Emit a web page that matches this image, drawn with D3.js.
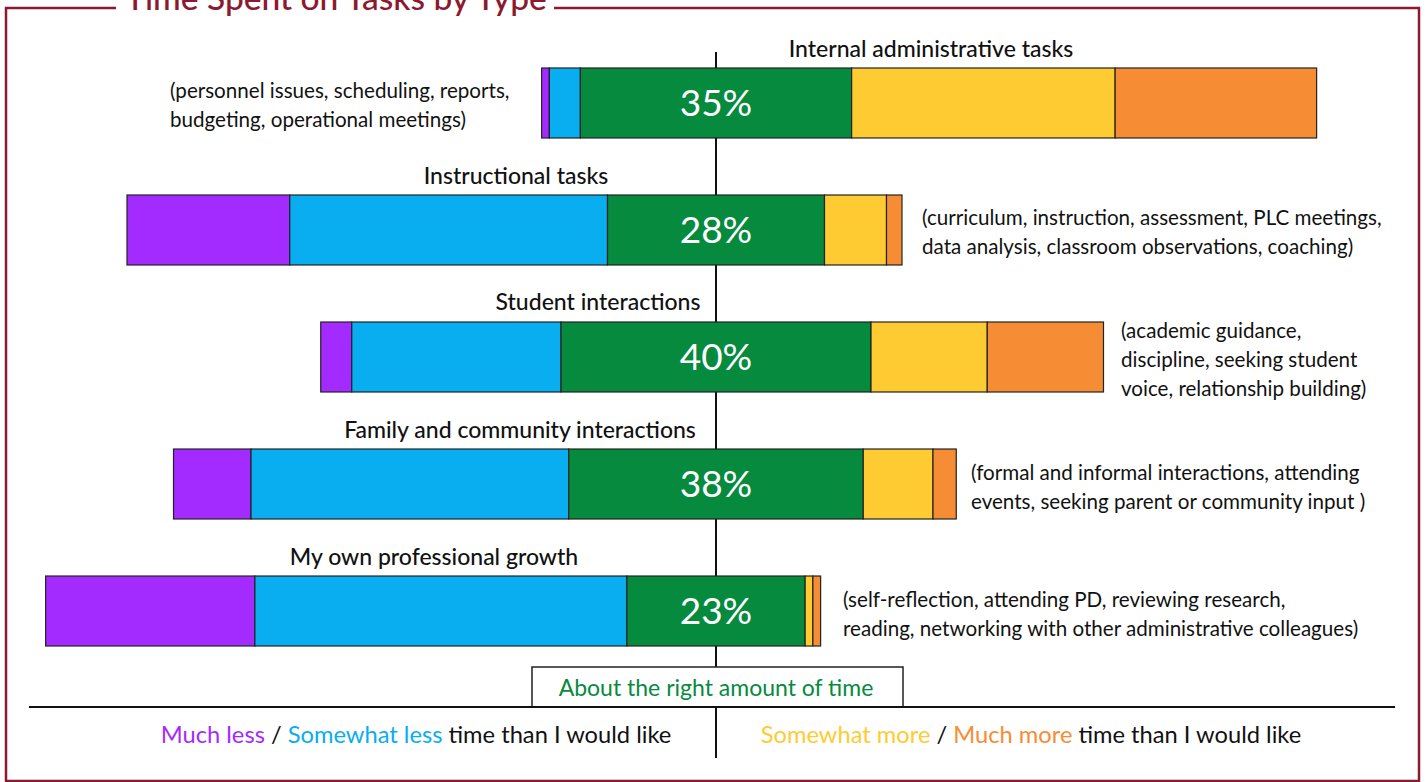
<!DOCTYPE html>
<html>
<head>
<meta charset="utf-8">
<style>
  body { margin: 0; background: #fff; }
  svg { display: block; font-family: Lato, "Open Sans", sans-serif; }
</style>
</head>
<body>
<div id="chart"></div>
<script src="https://cdnjs.cloudflare.com/ajax/libs/d3/7.8.5/d3.min.js"></script>
<script>
  // Data (percent of respondents)
  const categories = [
    "Internal administrative tasks",
    "Instructional tasks",
    "Student interactions",
    "Family and community interactions",
    "My own professional growth"
  ];
  const muchLess = [1, 21, 4, 10, 27];
  const somewhatLess = [4, 41, 27, 41, 48];
  const aboutRight = [35, 28, 40, 38, 23];
  const somewhatMore = [34, 8, 15, 9, 1];
  const muchMore = [26, 2, 15, 3, 1];
  const descriptions = [
    ["(personnel issues, scheduling, reports,", "budgeting, operational meetings)"],
    ["(curriculum, instruction, assessment, PLC meetings,", "data analysis, classroom observations, coaching)"],
    ["(academic guidance,", "discipline, seeking student", "voice, relationship building)"],
    ["(formal and informal interactions, attending", "events, seeking parent or community input )"],
    ["(self-reflection, attending PD, reviewing research,", "reading, networking with other administrative colleagues)"]
  ];
  const seriesNames = ["Much less", "Somewhat less", "About the right amount of time", "Somewhat more", "Much more"];

  // layout
  const width = 1426, height = 782;
  const cx = 716;
  const colors = ["#a32bff", "#08aeef", "#058a3e", "#fecb32", "#f68d35"];
  const maroon = "#8b1a30";
  // category title positions (x center, baseline y) and description x per row
  const titlePos = [[931, 57], [516, 184], [598, 310], [520, 438], [434, 565]];
  const descX = [170, 922, 1121, 971, 843];

  const rows = categories.map((c, i) => ({
    name: c,
    vals: [muchLess[i], somewhatLess[i], aboutRight[i], somewhatMore[i], muchMore[i]]
  }));

  const x = d3.scaleLinear().domain([-100, 100]).range([cx - 775, cx + 775]);
  const y = d3.scaleBand().domain(categories).range([68, 646]).paddingInner(0.449).paddingOuter(0);

  const svg = d3.create("svg")
    .attr("width", width)
    .attr("height", height)
    .attr("viewBox", [0, 0, width, height]);

  // frame
  svg.append("rect")
    .attr("x", 6).attr("y", 8)
    .attr("width", 1413).attr("height", 773)
    .attr("fill", "none")
    .attr("stroke", maroon)
    .attr("stroke-width", 2.5);
  svg.append("rect")
    .attr("x", 116).attr("y", 0)
    .attr("width", 438).attr("height", 14)
    .attr("fill", "#fff");
  svg.append("text")
    .attr("x", 336).attr("y", 10)
    .attr("text-anchor", "middle")
    .attr("fill", maroon)
    .attr("font-size", 33.5)
    .attr("font-weight", 500)
    .text("Time Spent on Tasks by Type");

  // center line
  svg.append("line")
    .attr("x1", cx).attr("x2", cx)
    .attr("y1", 52).attr("y2", 668)
    .attr("stroke", "#111").attr("stroke-width", 2);

  // bars
  const barG = svg.append("g");
  rows.forEach((r, i) => {
    let start = -(r.vals[0] + r.vals[1] + r.vals[2] / 2);
    const segs = r.vals.map((v, k) => {
      const s = { x0: start, x1: start + v, k };
      start += v;
      return s;
    });
    const g = barG.append("g");
    g.selectAll("rect")
      .data(segs)
      .join("rect")
      .attr("x", d => x(d.x0))
      .attr("y", y(r.name))
      .attr("width", d => x(d.x1) - x(d.x0))
      .attr("height", y.bandwidth())
      .attr("fill", d => colors[d.k])
      .attr("stroke", "#222")
      .attr("stroke-width", 1.2);

    g.append("text")
      .attr("x", cx)
      .attr("y", y(r.name) + y.bandwidth() / 2 + 13)
      .attr("text-anchor", "middle")
      .attr("fill", "#fff")
      .attr("font-size", 37)
      .text(r.vals[2] + "%");

    svg.append("text")
      .attr("x", titlePos[i][0])
      .attr("y", titlePos[i][1])
      .attr("text-anchor", "middle")
      .attr("font-size", 23)
      .attr("font-weight", 500)
      .attr("fill", "#111")
      .text(r.name);

    const lines = descriptions[i];
    const n = lines.length;
    const mid = y(r.name) + y.bandwidth() / 2;
    svg.append("text")
      .attr("font-size", 20.6)
      .attr("fill", "#111")
      .selectAll("tspan")
      .data(lines)
      .join("tspan")
      .attr("x", descX[i])
      .attr("y", (d, j) => mid + 10 + (j - (n - 1) / 2) * 29)
      .text(d => d);
  });

  // legend box
  svg.append("rect")
    .attr("x", 532).attr("y", 667)
    .attr("width", 371).attr("height", 40)
    .attr("fill", "#fff")
    .attr("stroke", "#222").attr("stroke-width", 1.5);
  svg.append("text")
    .attr("x", cx).attr("y", 696)
    .attr("text-anchor", "middle")
    .attr("font-size", 23)
    .attr("fill", colors[2])
    .text(seriesNames[2]);

  svg.append("line")
    .attr("x1", 29).attr("x2", 1395)
    .attr("y1", 707).attr("y2", 707)
    .attr("stroke", "#111").attr("stroke-width", 2);
  svg.append("line")
    .attr("x1", cx).attr("x2", cx)
    .attr("y1", 707).attr("y2", 758)
    .attr("stroke", "#111").attr("stroke-width", 2);

  const legendLeft = svg.append("text")
    .attr("x", 416).attr("y", 743)
    .attr("text-anchor", "middle")
    .attr("font-size", 23.7)
    .attr("fill", "#111");
  legendLeft.append("tspan").attr("fill", colors[0]).text(seriesNames[0]);
  legendLeft.append("tspan").text(" / ");
  legendLeft.append("tspan").attr("fill", colors[1]).text(seriesNames[1]);
  legendLeft.append("tspan").text(" time than I would like");

  const legendRight = svg.append("text")
    .attr("x", 1031).attr("y", 743)
    .attr("text-anchor", "middle")
    .attr("font-size", 23.7)
    .attr("fill", "#111");
  legendRight.append("tspan").attr("fill", colors[3]).text(seriesNames[3]);
  legendRight.append("tspan").text(" / ");
  legendRight.append("tspan").attr("fill", colors[4]).text(seriesNames[4]);
  legendRight.append("tspan").text(" time than I would like");

  d3.select("#chart").node().appendChild(svg.node());
</script>
</body>
</html>
